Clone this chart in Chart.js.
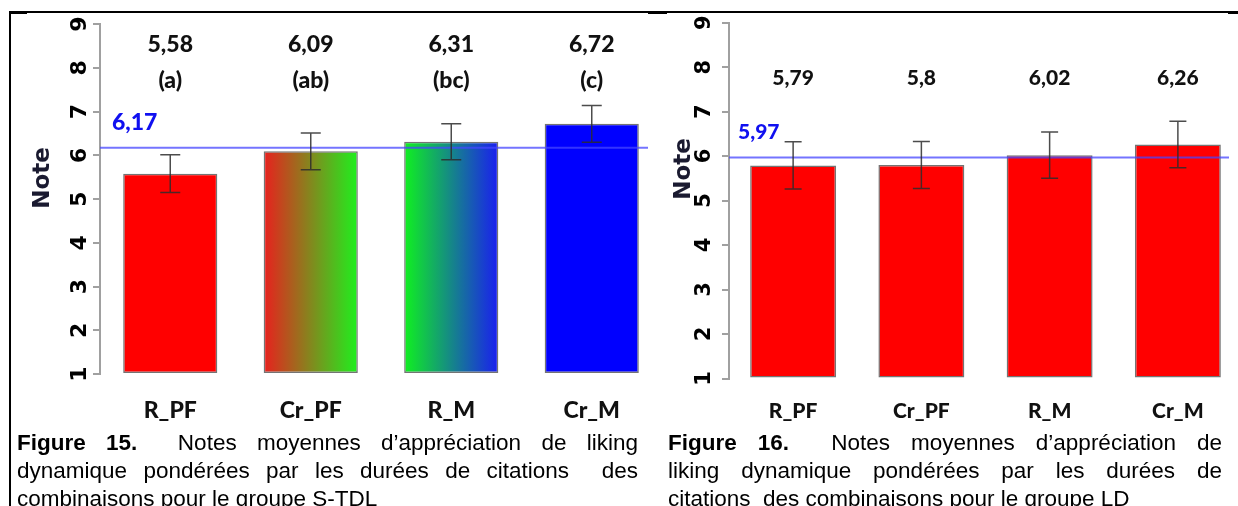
<!DOCTYPE html>
<html><head><meta charset="utf-8">
<script src="https://cdn.jsdelivr.net/npm/chart.js@4/dist/chart.umd.min.js"></script>
<style>
html,body{margin:0;padding:0;background:#fff;}
body{width:1238px;height:506px;overflow:hidden;position:relative;}
#w1{position:absolute;left:0;top:0;width:680px;height:430px;}
#w2{position:absolute;left:648px;top:0;width:581px;height:430px;overflow:hidden;background:#fff;}
.ln{position:absolute;background:#000;}
.cap{position:absolute;font-family:"Liberation Sans",Arial,sans-serif;font-size:22.5px;line-height:28px;color:#000;white-space:normal;}
.j{text-align:justify;text-align-last:justify;}
.l{text-align:left;white-space:nowrap;}
</style>
</head><body>
<div id="w1"><canvas id="c1" width="680" height="430"></canvas></div>
<div id="w2"><canvas id="c2" width="600" height="430"></canvas></div>

<div class="ln" style="left:10px;top:11px;width:1220px;height:1.5px;"></div>
<div class="ln" style="left:9px;top:11px;width:2px;height:495px;"></div>
<div class="ln" style="left:9px;top:11px;width:18px;height:3px;"></div>
<div class="ln" style="left:648px;top:11px;width:19px;height:2.5px;"></div>
<div class="ln" style="left:1228px;top:11px;width:10px;height:3px;"></div>

<div class="cap j" style="left:17px;top:429px;width:621px;"><b>Figure 15.</b>&nbsp; Notes moyennes d’appréciation de liking</div>
<div class="cap j" style="left:17px;top:457px;width:621px;">dynamique pondérées par les durées de citations&nbsp; des</div>
<div class="cap l" style="left:17px;top:485px;">combinaisons pour le groupe S-TDL</div>

<div class="cap j" style="left:668px;top:429px;width:554px;"><b>Figure 16.</b>&nbsp; Notes moyennes d’appréciation de</div>
<div class="cap j" style="left:668px;top:457px;width:554px;">liking dynamique pondérées par les durées de</div>
<div class="cap l" style="left:668px;top:485px;">citations&nbsp; des combinaisons pour le groupe LD</div>

<script>
// ---- data ----
const categories = ['R_PF', 'Cr_PF', 'R_M', 'Cr_M'];
const yTickValues = [1, 2, 3, 4, 5, 6, 7, 8, 9];

const stdlMeans   = [5.58, 6.09, 6.31, 6.72];
const stdlErrors  = [0.43, 0.42, 0.41, 0.42];
const stdlLetters = ['(a)', '(ab)', '(bc)', '(c)'];
const stdlOverall = 6.17;

const ldMeans   = [5.79, 5.8, 6.02, 6.26];
const ldErrors  = [0.53, 0.53, 0.52, 0.52];
const ldOverall = 5.97;

// ---- styles ----
const stdlFills = ['#ff0000', ['#e8201e', '#1ef01e'], ['#10f020', '#1a1ef0'], '#0000ff'];
const ldFills = ['#ff0000', '#ff0000', '#ff0000', '#ff0000'];
const BAR_PCT = 0.67;

const fmt = v => String(v).replace('.', ',');

function barFill(fills) {
  return (c) => {
    const spec = fills[c.dataIndex];
    if (!Array.isArray(spec)) return spec;
    const ch = c.chart, xs = ch.scales && ch.scales.x;
    if (!ch.chartArea || !xs) return spec[0];
    const cx = xs.getPixelForValue(c.dataIndex);
    const w = xs.width / ch.data.labels.length * BAR_PCT;
    const g = ch.ctx.createLinearGradient(cx - w / 2, 0, cx + w / 2, 0);
    g.addColorStop(0, spec[0]);
    g.addColorStop(1, spec[1]);
    return g;
  };
}

const overlay = {
  id: 'overlay',
  afterDatasetsDraw(chart, args, o) {
    const ctx = chart.ctx, y = chart.scales.y, area = chart.chartArea;
    const meta = chart.getDatasetMeta(0);
    ctx.save();
    // overall mean line
    const my = y.getPixelForValue(o.overall);
    ctx.strokeStyle = 'rgba(70,70,255,0.75)';
    ctx.lineWidth = 2;
    ctx.beginPath(); ctx.moveTo(area.left, my); ctx.lineTo(chart.width, my); ctx.stroke();
    // error bars
    ctx.strokeStyle = 'rgba(45,45,45,0.85)';
    ctx.lineWidth = 1.5;
    meta.data.forEach((bar, i) => {
      const v = o.means[i], e = o.errors[i];
      const t = y.getPixelForValue(v + e), b = y.getPixelForValue(v - e);
      const h = o.cap / 2;
      ctx.beginPath();
      ctx.moveTo(bar.x, t); ctx.lineTo(bar.x, b);
      ctx.moveTo(bar.x - h, t); ctx.lineTo(bar.x + h, t);
      ctx.moveTo(bar.x - h, b); ctx.lineTo(bar.x + h, b);
      ctx.stroke();
    });
    // value labels
    ctx.font = '900 ' + o.valueFont + 'px Lato';
    ctx.textAlign = 'center';
    ctx.textBaseline = 'middle';
    ctx.fillStyle = '#111';
    meta.data.forEach((bar, i) => {
      ctx.fillText(fmt(o.means[i]), bar.x, y.getPixelForValue(o.valueAt));
      if (o.letters) ctx.fillText(o.letters[i], bar.x, y.getPixelForValue(o.letterAt));
    });
    // overall mean label
    ctx.fillStyle = '#1010f0';
    ctx.textAlign = 'left';
    ctx.fillText(fmt(o.overall), area.left + o.meanDx, my + o.meanDy);
    // axis title
    ctx.translate(o.titleX, o.titleY);
    ctx.rotate(-Math.PI / 2);
    ctx.font = 'bold 23px "DejaVu Sans"';
    ctx.fillStyle = '#1a1a30';
    ctx.textAlign = 'center';
    ctx.fillText('Note', 0, 0);
    ctx.restore();
  }
};

function makeChart(id, means, fills, cfg) {
  return new Chart(document.getElementById(id), {
    type: 'bar',
    data: {
      labels: categories,
      datasets: [{
        data: means,
        base: 1,
        backgroundColor: barFill(fills),
        borderColor: 'rgba(70,70,70,0.75)',
        borderWidth: 1.5,
        borderSkipped: false,
        barPercentage: BAR_PCT,
        categoryPercentage: 1
      }]
    },
    options: {
      responsive: false,
      animation: false,
      devicePixelRatio: 1,
      layout: { autoPadding: false, padding: { top: cfg.top, right: cfg.right, left: 0, bottom: 0 } },
      plugins: {
        legend: { display: false },
        tooltip: { enabled: false },
        overlay: cfg.overlay
      },
      scales: {
        x: {
          grid: { display: false, drawTicks: false },
          border: { display: false },
          ticks: {
            autoSkip: false, maxRotation: 0, padding: cfg.xPad, color: '#111',
            font: { family: 'Lato', weight: 900, size: cfg.xFont }
          },
          afterFit: s => { s.height = cfg.xHeight; }
        },
        y: {
          min: 1, max: 9,
          afterBuildTicks: s => { s.ticks = yTickValues.map(v => ({ value: v })); },
          grid: { drawOnChartArea: false, color: '#a0a0a0', lineWidth: 2, tickLength: 7 },
          border: { display: true, color: '#a0a0a0', width: 2 },
          ticks: {
            minRotation: 90, maxRotation: 90, crossAlign: 'center',
            padding: cfg.yPad, color: '#000',
            font: { family: 'DejaVu Sans', weight: 'bold', size: cfg.yFont },
            callback: v => String(v)
          },
          afterFit: s => { s.width = cfg.yWidth; }
        }
      }
    },
    plugins: [overlay]
  });
}

makeChart('c1', stdlMeans, stdlFills, {
  top: 24, right: 18, xHeight: 56, xPad: 23, xFont: 23, yWidth: 100, yPad: 5, yFont: 22,
  overlay: {
    means: stdlMeans, errors: stdlErrors, letters: stdlLetters, overall: stdlOverall,
    cap: 20, valueFont: 23, valueAt: 8.52, letterAt: 7.70, meanDx: 12, meanDy: -25,
    titleX: 43.5, titleY: 178
  }
});

makeChart('c2', ldMeans, ldFills, {
  top: 17, right: 6, xHeight: 51.5, xPad: 20, xFont: 21, yWidth: 81, yPad: 10, yFont: 21,
  overlay: {
    means: ldMeans, errors: ldErrors, letters: null, overall: ldOverall,
    cap: 17, valueFont: 21, valueAt: 7.76, letterAt: 0, meanDx: 9, meanDy: -25,
    titleX: 36.5, titleY: 169
  }
});
</script>
</body></html>
